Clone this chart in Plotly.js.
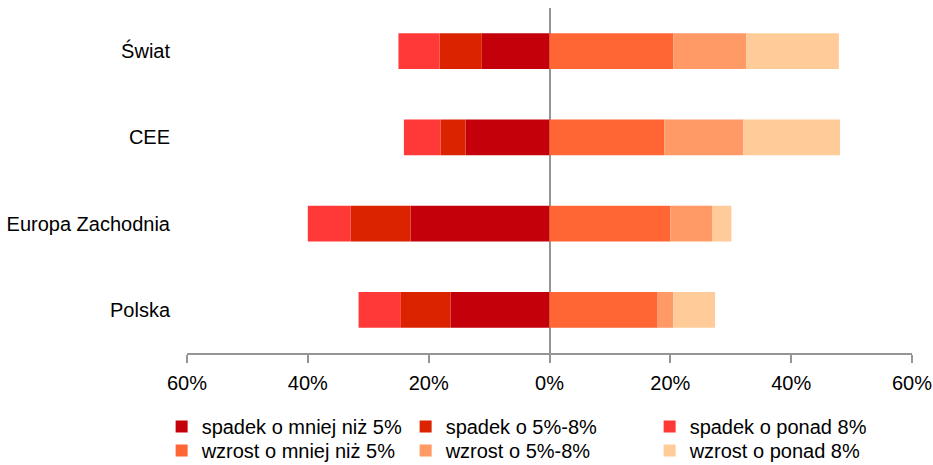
<!DOCTYPE html>
<html>
<head>
<meta charset="utf-8">
<script src="https://cdn.plot.ly/plotly-3.0.1.min.js"></script>
<style>html,body{margin:0;padding:0;background:#fff;}#chart{width:933px;height:465px;}</style>
</head>
<body>
<div id="chart"></div>
<script>
const categories = ["Świat", "CEE", "Europa Zachodnia", "Polska"];
const seriesNames = ["spadek o mniej niż 5%", "spadek o 5%-8%", "spadek o ponad 8%",
                     "wzrost o mniej niż 5%", "wzrost o 5%-8%", "wzrost o ponad 8%"];
const spadekMniej5 = [-11.2, -13.9, -23.0, -16.4];
const spadek5do8   = [-7.0, -4.1, -9.9, -8.2];
const spadekPonad8 = [-6.8, -6.1, -7.1, -7.0];
const wzrostMniej5 = [20.5, 19.0, 20.0, 17.9];
const wzrost5do8   = [12.1, 13.1, 6.9, 2.6];
const wzrostPonad8 = [15.3, 16.0, 3.2, 6.9];
const tickValues = [-60, -40, -20, 0, 20, 40, 60];
const tickLabels = ["60%", "40%", "20%", "0%", "20%", "40%", "60%"];
const colors = ["#C4000B", "#DC2300", "#FF3838", "#FF6633", "#FF9966", "#FFCC99"];

const seriesValues = [spadekMniej5, spadek5do8, spadekPonad8, wzrostMniej5, wzrost5do8, wzrostPonad8];
const traces = seriesValues.map((vals, i) => ({
  type: "bar",
  orientation: "h",
  name: seriesNames[i],
  y: categories,
  x: vals,
  legend: i < 3 ? "legend" : "legend2",
  marker: {color: colors[i], line: {width: 0}},
  hoverinfo: "skip"
}));

const legendCommon = {
  orientation: "h",
  x: -0.035, xanchor: "left",
  yanchor: "top",
  entrywidth: 199, entrywidthmode: "pixels",
  itemwidth: 30,
  traceorder: "normal",
  font: {size: 20},
  bgcolor: "rgba(0,0,0,0)"
};

const layout = {
  width: 933, height: 465,
  margin: {l: 187, r: 21, t: 8, b: 112, autoexpand: false},
  paper_bgcolor: "#ffffff", plot_bgcolor: "#ffffff",
  font: {family: "Liberation Sans, Arial, sans-serif", size: 20, color: "#000000"},
  barmode: "relative",
  bargap: 0.585,
  showlegend: true,
  xaxis: {
    range: [-60, 60],
    tickvals: tickValues, ticktext: tickLabels,
    showgrid: false,
    zeroline: true, zerolinecolor: "#959595", zerolinewidth: 2,
    showline: true, linecolor: "#959595", linewidth: 2,
    ticks: "outside", ticklen: 8, tickcolor: "#959595", tickwidth: 2,
    ticklabelstandoff: 3,
    fixedrange: true
  },
  yaxis: {
    autorange: "reversed",
    showgrid: false, zeroline: false, showline: false,
    ticks: "outside", ticklen: 12, tickcolor: "rgba(0,0,0,0)",
    fixedrange: true
  },
  legend: Object.assign({}, legendCommon, {y: -0.1565}),
  legend2: Object.assign({}, legendCommon, {y: -0.226})
};

Plotly.newPlot("chart", traces, layout, {staticPlot: true, displayModeBar: false});
</script>
</body>
</html>
